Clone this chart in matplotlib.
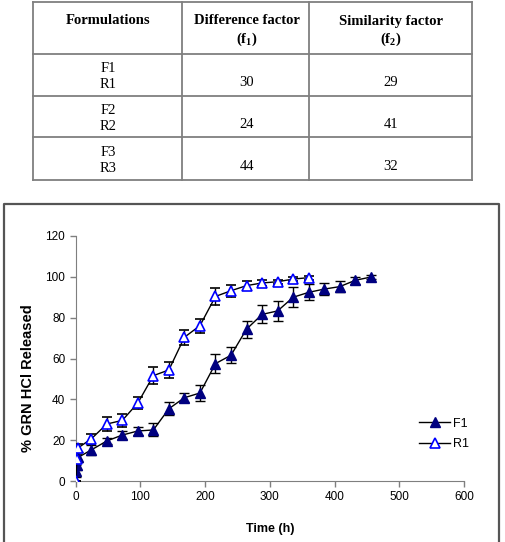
import matplotlib
matplotlib.use("Agg")
import matplotlib.pyplot as plt
from matplotlib.lines import Line2D

plt.rcParams['mathtext.fontset'] = 'custom'
plt.rcParams['mathtext.rm'] = 'Liberation Serif'
plt.rcParams['mathtext.bf'] = 'Liberation Serif:bold'

# table data
formulations = ["F1\nR1", "F2\nR2", "F3\nR3"]
diff_factor = [30, 24, 44]
sim_factor = [29, 41, 32]

# release profile (time in h, % released, SD)
t_f1 = [1, 2, 4, 24, 48, 72, 96, 120, 144, 168, 192, 216, 240, 264, 288, 312, 336, 360, 384, 408, 432, 456]
y_f1 = [5, 8, 11.6, 15.2, 19.6, 22.5, 24.5, 25, 35.4, 40.8, 43.1, 57.5, 61.6, 74.4, 81.6, 83.3, 90, 92.4, 94, 95.2, 98.3, 99.9]
e_f1 = [2.8, 2.4, 2.4, 2.3, 1.4, 2, 2.1, 3.2, 3.1, 2.1, 3.7, 4.6, 4, 4.2, 4.4, 5, 5, 3.9, 3, 2.8, 1.6, 0.8]
t_r1 = [0, 2, 4, 24, 48, 72, 96, 120, 144, 168, 192, 216, 240, 264, 288, 312, 336, 360]
y_r1 = [0, 10.6, 16.3, 20.6, 27.9, 29.7, 38.2, 51.6, 54.4, 70.4, 76.1, 90.4, 93.2, 95.7, 97, 97.6, 98.9, 99.6]
e_r1 = [0, 2, 2, 2.4, 3.3, 3.3, 3.1, 4.1, 3.9, 3.7, 3.4, 4.2, 3, 2.2, 1.6, 1, 1, 1]

W, H = 505, 542
fig = plt.figure(figsize=(W / 100, H / 100), dpi=100)

# overlay in pixel coordinates for table and chart frame
ov = fig.add_axes([0, 0, 1, 1])
ov.set_xlim(0, W)
ov.set_ylim(H, 0)
ov.axis('off')

gray = '#7f7f7f'
xs = [33, 182, 309, 472]
ys = [2, 54, 96, 137, 180]
for x in xs:
    ov.add_line(Line2D([x, x], [ys[0], ys[-1]], color=gray, lw=1.3))
for y in ys:
    ov.add_line(Line2D([xs[0], xs[-1]], [y, y], color=gray, lw=1.3))

serif = 'Liberation Serif'
fs = 10.5
ov.text(108, 21, "Formulations", ha='center', va='center', family=serif, weight='bold', fontsize=fs)
ov.text(247, 21, "Difference factor", ha='center', va='center', family=serif, weight='bold', fontsize=fs)
ov.text(247, 39, r"$\mathbf{(f_1)}$", ha='center', va='center', fontsize=fs)
ov.text(391, 21, "Similarity factor", ha='center', va='center', family=serif, weight='bold', fontsize=fs)
ov.text(391, 39, r"$\mathbf{(f_2)}$", ha='center', va='center', fontsize=fs)
for i, (f, d, s) in enumerate(zip(formulations, diff_factor, sim_factor)):
    top = ys[i + 1]
    a, b = f.split("\n")
    ov.text(108, top + 15, a, ha='center', va='center', family=serif, fontsize=fs)
    ov.text(108, top + 31, b, ha='center', va='center', family=serif, fontsize=fs)
    ov.text(247, top + 29, str(d), ha='center', va='center', family=serif, fontsize=fs)
    ov.text(391, top + 29, str(s), ha='center', va='center', family=serif, fontsize=fs)

# chart frame
ov.add_line(Line2D([4, 4, 499, 499], [H + 2, 204, 204, H + 2], color='#555555', lw=1.6))

# chart
ax = fig.add_axes([75.7 / W, (H - 481) / H, (464 - 75.7) / W, (481 - 236) / H])
ax.errorbar(t_f1, y_f1, yerr=e_f1, color='black', lw=1, ecolor='black', elinewidth=1,
            capsize=3.5, capthick=1, marker='^', ms=6.5, mfc='#000080', mec='#000080',
            zorder=3)
ax.errorbar(t_r1, y_r1, yerr=e_r1, color='black', lw=1, ecolor='black', elinewidth=1,
            capsize=3.5, capthick=1, marker='^', ms=6.5, mfc='white', mec='#0000ff',
            mew=1.2, zorder=3)

ax.set_xlim(0, 600)
ax.set_ylim(0, 120)
ax.set_xticks(range(0, 601, 100))
ax.set_yticks(range(0, 121, 20))
for s in ['top', 'right']:
    ax.spines[s].set_visible(False)
for s in ['left', 'bottom']:
    ax.spines[s].set_color(gray)
ax.tick_params(colors=gray, labelcolor='black', labelsize=8.5, length=4, width=1, direction='out')
for lab in ax.get_xticklabels() + ax.get_yticklabels():
    lab.set_family('Liberation Sans')
ax.set_xlabel('Time (h)', family='Liberation Sans', weight='bold', fontsize=9, labelpad=14)
ax.set_ylabel('% GRN HCl Released', family='Liberation Sans', weight='bold', fontsize=10.5)
ax.yaxis.set_label_coords(-0.105, 0.42)

handles = [Line2D([], [], color='black', lw=1, marker='^', ms=6.5, mfc='#000080', mec='#000080'),
           Line2D([], [], color='black', lw=1, marker='^', ms=6.5, mfc='white', mec='#0000ff', mew=1.2)]
ax.legend(handles, ['F1', 'R1'], loc='upper left', bbox_to_anchor=(0.855, 0.305), frameon=False,
          prop={'family': 'Liberation Sans', 'size': 9}, handlelength=2.5,
          handletextpad=0.2, labelspacing=0.7)

fig.savefig('out.png', dpi=100)
